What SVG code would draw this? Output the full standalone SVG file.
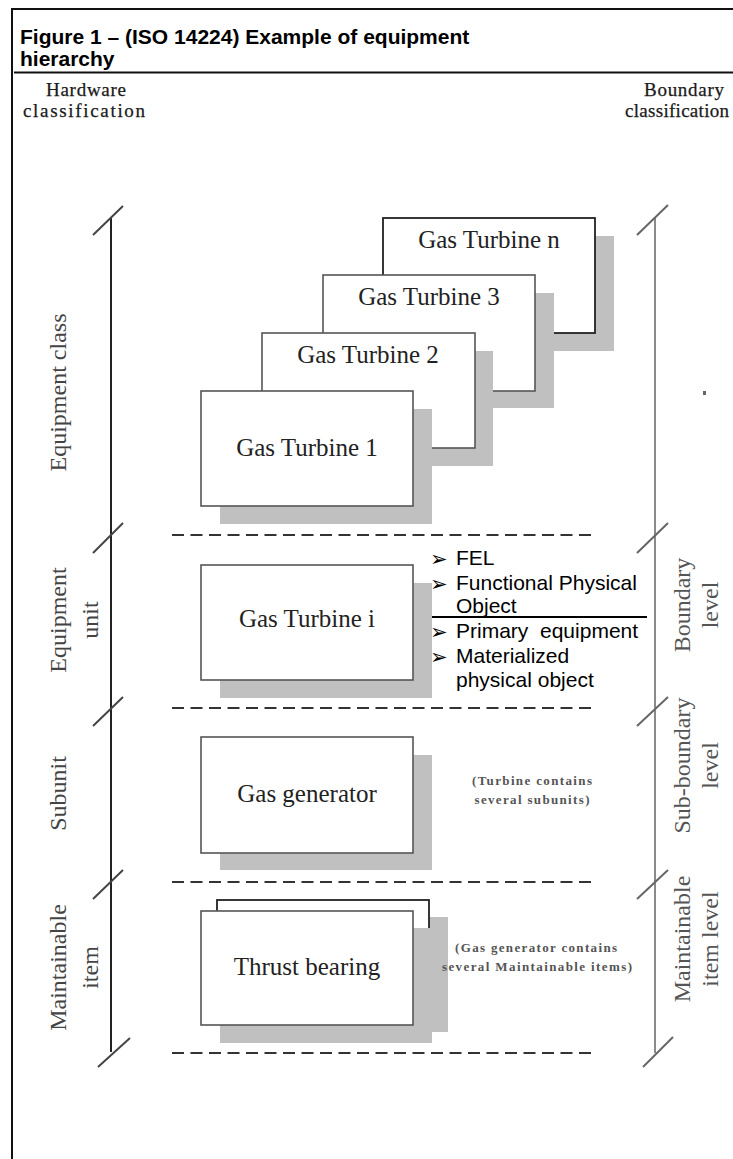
<svg xmlns="http://www.w3.org/2000/svg" width="733" height="1159" viewBox="0 0 733 1159">
<style>
.frame{fill:none;stroke:#111;stroke-width:2}
.box{fill:#fff;stroke:#555;stroke-width:1.6}
.boxd{fill:#fff;stroke:#222;stroke-width:1.8}
.shadow{fill:#c0c0c0}
.lbl{font-family:"Liberation Serif","Times New Roman",serif;font-size:25px;fill:#222;text-anchor:middle}
.hdr{font-family:"Liberation Serif","Times New Roman",serif;font-size:19px;fill:#1a1a1a;text-anchor:middle;stroke:#1a1a1a;stroke-width:0.25}
.vl{font-family:"Liberation Serif","Times New Roman",serif;font-size:24px;fill:#444;text-anchor:middle}
.vr{font-family:"Liberation Serif","Times New Roman",serif;font-size:24px;fill:#555;text-anchor:middle}
.axl{stroke:#222;stroke-width:2;fill:none}
.axr{stroke:#8a8a8a;stroke-width:2;fill:none}
.tkl{stroke:#444;stroke-width:2}
.tkr{stroke:#666;stroke-width:2}
.dash{stroke:#333;stroke-width:2;stroke-dasharray:12 6.5}
.bt{font-family:"Liberation Sans",Arial,sans-serif;font-size:21px;fill:#000}
.bl{font-family:"DejaVu Sans",sans-serif;font-size:21px;fill:#000}
.note{font-family:"Liberation Serif","Times New Roman",serif;font-size:13px;fill:#555;font-weight:bold;text-anchor:middle}
.title{font-family:"Liberation Sans",Arial,sans-serif;font-size:21px;font-weight:bold;fill:#000}
</style>

<g id="frame">
  <line class="frame" x1="12" y1="9" x2="733" y2="9"/>
  <line class="frame" x1="12" y1="8" x2="12" y2="1159"/>
  <line class="frame" x1="14" y1="72.5" x2="733" y2="72.5"/>
</g>

<g id="title">
  <text class="title" x="20" y="44">Figure 1 – (ISO 14224) Example of equipment</text>
  <text class="title" x="20" y="65.5">hierarchy</text>
</g>

<g id="header-left">
  <text class="hdr" x="86" y="96" textLength="80" lengthAdjust="spacing">Hardware</text>
  <text class="hdr" x="84" y="117" textLength="122" lengthAdjust="spacing">classification</text>
</g>
<g id="header-right">
  <text class="hdr" x="684" y="96" textLength="80" lengthAdjust="spacing">Boundary</text>
  <text class="hdr" x="677" y="117" textLength="104" lengthAdjust="spacing">classification</text>
</g>

<g id="connectors">
  <line class="axl" x1="111" y1="218" x2="111" y2="1052"/>
  <line class="tkl" x1="93" y1="235" x2="123" y2="206"/>
  <line class="tkl" x1="93" y1="553" x2="123" y2="523"/>
  <line class="tkl" x1="93" y1="726" x2="123" y2="697"/>
  <line class="tkl" x1="93" y1="899" x2="123" y2="870"/>
  <line class="tkl" x1="98" y1="1067" x2="130" y2="1038"/>
  <line class="axr" x1="655" y1="218" x2="655" y2="1053"/>
  <line class="tkr" x1="637" y1="235" x2="668" y2="205"/>
  <line class="tkr" x1="637" y1="553" x2="668" y2="523"/>
  <line class="tkr" x1="637" y1="726" x2="668" y2="697"/>
  <line class="tkr" x1="637" y1="899" x2="668" y2="870"/>
  <line class="tkr" x1="643" y1="1067" x2="673" y2="1037"/>
  <line class="dash" x1="172" y1="535" x2="597" y2="535"/>
  <line class="dash" x1="172" y1="708" x2="597" y2="708"/>
  <line class="dash" x1="172" y1="882" x2="597" y2="882"/>
  <line class="dash" x1="172" y1="1053" x2="597" y2="1053"/>
  <line stroke="#000" stroke-width="2" x1="423" y1="617" x2="647" y2="617"/>
  <rect x="703" y="391" width="3" height="4" fill="#666"/>
</g>

<g id="labels-left">
  <text class="vl" x="66" y="392.5" transform="rotate(-90 66 392.5)">Equipment class</text>
  <text class="vl" x="66" y="620" transform="rotate(-90 66 620)">Equipment</text>
  <text class="vl" x="98" y="620" transform="rotate(-90 98 620)">unit</text>
  <text class="vl" x="66" y="793.5" transform="rotate(-90 66 793.5)">Subunit</text>
  <text class="vl" x="66" y="967.5" transform="rotate(-90 66 967.5)">Maintainable</text>
  <text class="vl" x="98" y="967.5" transform="rotate(-90 98 967.5)">item</text>
</g>
<g id="labels-right">
  <text class="vr" x="690" y="605" transform="rotate(-90 690 605)">Boundary</text>
  <text class="vr" x="718" y="605" transform="rotate(-90 718 605)">level</text>
  <text class="vr" x="690" y="765.5" transform="rotate(-90 690 765.5)">Sub-boundary</text>
  <text class="vr" x="718" y="765.5" transform="rotate(-90 718 765.5)">level</text>
  <text class="vr" x="690" y="939" transform="rotate(-90 690 939)">Maintainable</text>
  <text class="vr" x="718" y="939" transform="rotate(-90 718 939)">item level</text>
</g>

<g id="gas-turbine-n">
  <rect class="shadow" x="402" y="236" width="212" height="115"/>
  <rect class="boxd" x="383" y="218" width="212" height="115"/>
  <text class="lbl" x="489" y="248">Gas Turbine n</text>
</g>
<g id="gas-turbine-3">
  <rect class="shadow" x="342" y="293" width="212" height="115"/>
  <rect class="box" x="323" y="275" width="212" height="116"/>
  <text class="lbl" x="429" y="305">Gas Turbine 3</text>
</g>
<g id="gas-turbine-2">
  <rect class="shadow" x="281" y="351" width="212" height="115"/>
  <rect class="box" x="262" y="333" width="213" height="115"/>
  <text class="lbl" x="368" y="363">Gas Turbine 2</text>
</g>
<g id="gas-turbine-1">
  <rect class="shadow" x="220" y="409" width="212" height="115"/>
  <rect class="box" x="201" y="391" width="212" height="115"/>
  <text class="lbl" x="307" y="456">Gas Turbine 1</text>
</g>

<g id="gas-turbine-i">
  <rect class="shadow" x="220" y="583" width="212" height="115"/>
  <rect class="box" x="201" y="565" width="212" height="115"/>
  <text class="lbl" x="307" y="627">Gas Turbine i</text>
</g>

<g id="bullets">
  <text class="bl" x="430" y="566">➢</text>
  <text class="bt" x="456" y="565">FEL</text>
  <text class="bl" x="430" y="591">➢</text>
  <text class="bt" x="456" y="590">Functional Physical</text>
  <text class="bt" x="456" y="613">Object</text>
  <text class="bl" x="430" y="639">➢</text>
  <text class="bt" x="456" y="638" xml:space="preserve">Primary  equipment</text>
  <text class="bl" x="430" y="664">➢</text>
  <text class="bt" x="456" y="663">Materialized</text>
  <text class="bt" x="456" y="687">physical object</text>
</g>

<g id="gas-generator">
  <rect class="shadow" x="220" y="755" width="212" height="115"/>
  <rect class="box" x="201" y="737" width="212" height="116"/>
  <text class="lbl" x="307" y="802">Gas generator</text>
</g>
<g id="note-subunits">
  <text class="note" x="532" y="785" textLength="120" lengthAdjust="spacing">(Turbine contains</text>
  <text class="note" x="532" y="804" textLength="115" lengthAdjust="spacing">several subunits)</text>
</g>

<g id="thrust-bearing">
  <rect class="shadow" x="236" y="917" width="212" height="115"/>
  <rect class="boxd" x="217" y="900" width="212" height="115"/>
  <rect class="shadow" x="220" y="928" width="212" height="115"/>
  <rect class="box" x="201" y="911" width="212" height="114"/>
  <text class="lbl" x="307" y="975">Thrust bearing</text>
</g>
<g id="note-items">
  <text class="note" x="536" y="952" textLength="162" lengthAdjust="spacing">(Gas generator contains</text>
  <text class="note" x="537" y="971" textLength="190" lengthAdjust="spacing">several Maintainable items)</text>
</g>
</svg>
